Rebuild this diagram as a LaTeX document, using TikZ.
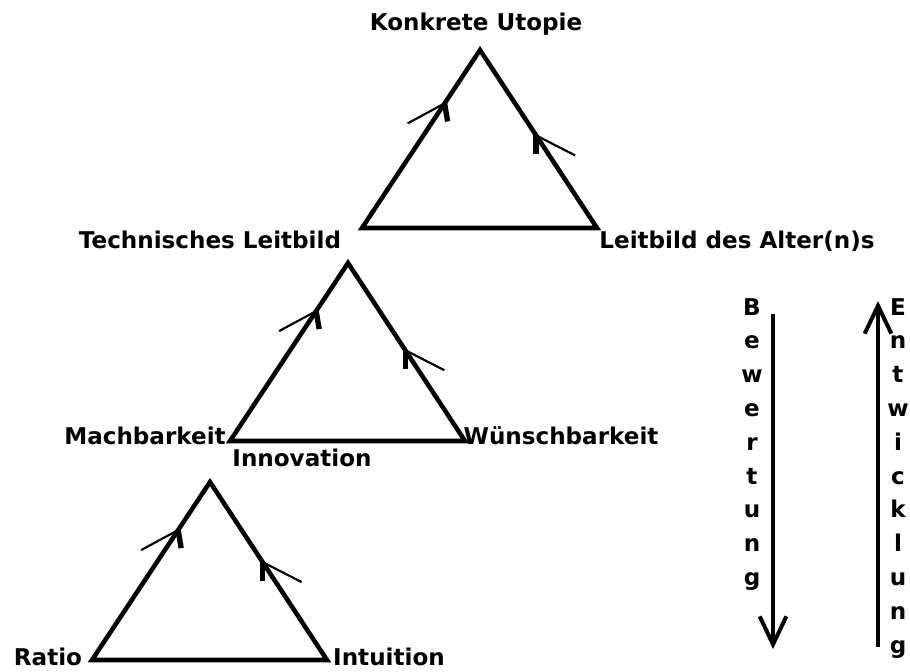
\documentclass[tikz,border=0pt]{standalone}
\usepackage{fontspec}
\setmainfont{DejaVu Sans}
\usetikzlibrary{arrows.meta,calc}
\tikzset{
  kante/.style={line width=3.4pt, line join=miter},
  haken/.style={line width=1.6pt},
  stummel/.style={line width=4pt},
  etikett/.style={font=\bfseries\fontsize{17.3}{20}\selectfont, inner sep=0pt, anchor=base},
  pfeil/.style={line width=2.4pt, -{Straight Barb[length=21pt,width=20pt,line width=3pt]}}
}
\begin{document}
\begin{tikzpicture}[x=0.75pt,y=-0.75pt]
	\useasboundingbox (0,0) rectangle (910,671);
	
	% Dreiecke: Spitze, links, rechts
	\foreach \n/\x/\y/\tl/\tr in {oben/480/50/0.30/0.48, mitte/348/263/0.27/0.49, unten/210/482/0.27/0.45} {
		\coordinate (\n-s) at (\x,\y);
		\coordinate (\n-l) at (\x-118,\y+178);
		\coordinate (\n-r) at (\x+117,\y+178);
		\draw[kante] (\n-s) -- (\n-l) -- (\n-r) -- cycle;
		% Pfeilspitzen auf den Seiten
		\coordinate (\n-pl) at ($(\n-s)!\tl!(\n-l)$);
		\coordinate (\n-pr) at ($(\n-s)!\tr!(\n-r)$);
		\draw[haken] (\n-pl) -- ++(-37,20);
		\draw[stummel] (\n-pl) -- ++(3,18);
		\draw[haken] (\n-pr) -- ++(39,20);
		\draw[stummel] (\n-pr) -- ++(0,19);
	}
	
	% Beschriftungen
	\node[etikett] (utopie) at (476,31) {Konkrete Utopie};
	\node[etikett] (technisch) at (210,248) {Technisches Leitbild};
	\node[etikett] (alter) at (737,248) {Leitbild des Alter(n)s};
	\node[etikett] (machbar) at (145,444) {Machbarkeit};
	\node[etikett] (wuensch) at (561,444) {Wünschbarkeit};
	\node[etikett] (innovation) at (302,466) {Innovation};
	\node[etikett] (ratio) at (48,665) {Ratio};
	\node[etikett] (intuition) at (389,665) {Intuition};
	
	% Bewertung (nach unten)
	\foreach \b [count=\i from 0] in {B,e,w,e,r,t,u,n,g} {
		\node[etikett] (bew\i) at (752,315+33.8*\i) {\b};
	}
	\coordinate (bew-a) at (773,314);
	\coordinate (bew-b) at (773,649);
	\draw[pfeil] (bew-a) -- (bew-b);
	
	% Entwicklung (nach oben)
	\foreach \b [count=\i from 0] in {E,n,t,w,i,c,k,l,u,n,g} {
		\node[etikett] (ent\i) at (898,315+33.8*\i) {\b};
	}
	\coordinate (ent-a) at (878,647);
	\coordinate (ent-b) at (878,301);
	\draw[pfeil] (ent-a) -- (ent-b);
\end{tikzpicture}
\end{document}
